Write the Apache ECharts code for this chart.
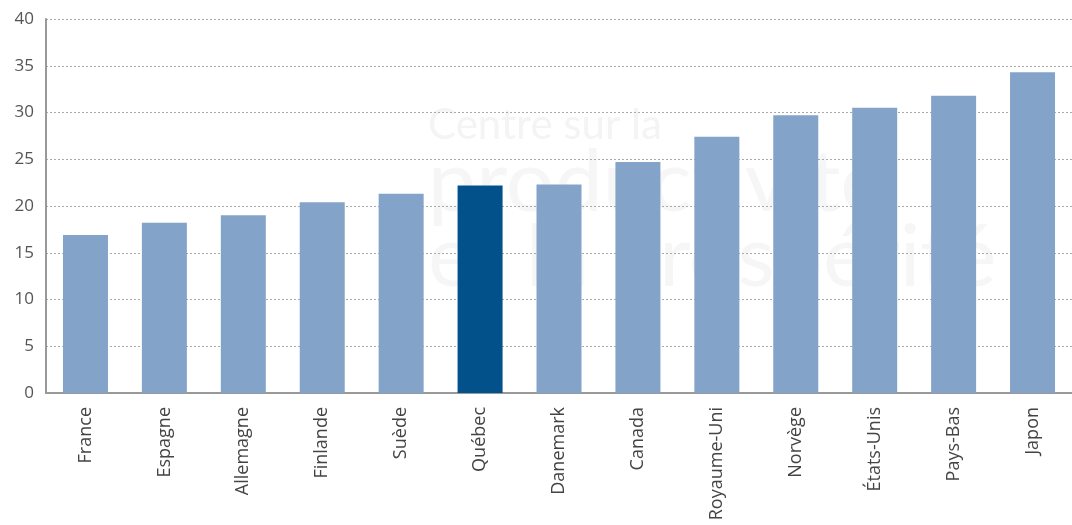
<!DOCTYPE html>
<html>
<head>
<meta charset="utf-8">
<script src="https://cdn.jsdelivr.net/npm/echarts@6/dist/echarts.min.js"></script>
<style>
  html, body { margin: 0; padding: 0; background: #fff; }
  #chart { width: 1072px; height: 525px; }
</style>
</head>
<body>
<div id="chart"></div>
<script>
var pays = ['France', 'Espagne', 'Allemagne', 'Finlande', 'Suède', 'Québec', 'Danemark',
  'Canada', 'Royaume-Uni', 'Norvège', 'États-Unis', 'Pays-Bas', 'Japon']
var valeurs = [16.9, 18.2, 19.0, 20.4, 21.3, 22.2, 22.3, 24.7, 27.4, 29.7, 30.5, 31.8, 34.3]
var yTicks = [0, 5, 10, 15, 20, 25, 30, 35, 40]

var chart = echarts.init(document.getElementById('chart'))

var option = {
  animation: false,
  grid: { left: 46, right: 0, top: 19, bottom: 132 },
  // filigrane pâle en arrière-plan
  graphic: [
    { type: 'text', left: 428, top: 104, z: -1,
      style: { text: 'Centre sur la', fontSize: 42, fontFamily: 'Lato', fill: '#f4f4f4' } },
    { type: 'text', left: 428, top: 140, z: -1,
      style: { text: 'productivité', fontSize: 86, fontFamily: 'Lato', fill: '#f6f6f6' } },
    { type: 'text', left: 428, top: 215, z: -1,
      style: { text: 'et la prospérité', fontSize: 86, fontFamily: 'Lato', fill: '#f6f6f6' } }
  ],
  xAxis: {
    type: 'category',
    data: pays,
    axisLine: { lineStyle: { color: '#999', width: 2 } },
    axisTick: { show: false },
    axisLabel: {
      rotate: 90,
      color: '#444',
      fontSize: 18,
      fontFamily: 'Open Sans',
      margin: 14
    }
  },
  yAxis: {
    type: 'value',
    min: 0,
    max: 40,
    interval: 5,
    axisLine: { show: true, lineStyle: { color: '#999', width: 2 } },
    axisTick: { show: false },
    axisLabel: {
      color: '#555',
      fontSize: 17,
      fontFamily: 'Open Sans',
      margin: 12,
      formatter: function (v) { return yTicks.indexOf(v) >= 0 ? String(v) : '' }
    },
    splitLine: { lineStyle: { color: '#aaa', type: [2, 2], width: 1 } }
  },
  series: [{
    type: 'bar',
    data: valeurs.map(function (v, i) {
      return pays[i] === 'Québec'
        ? { value: v, itemStyle: { color: '#02518b' } }
        : v
    }),
    barWidth: 45,
    itemStyle: { color: '#84a3c9' }
  }]
}

chart.setOption(option)
</script>
</body>
</html>
